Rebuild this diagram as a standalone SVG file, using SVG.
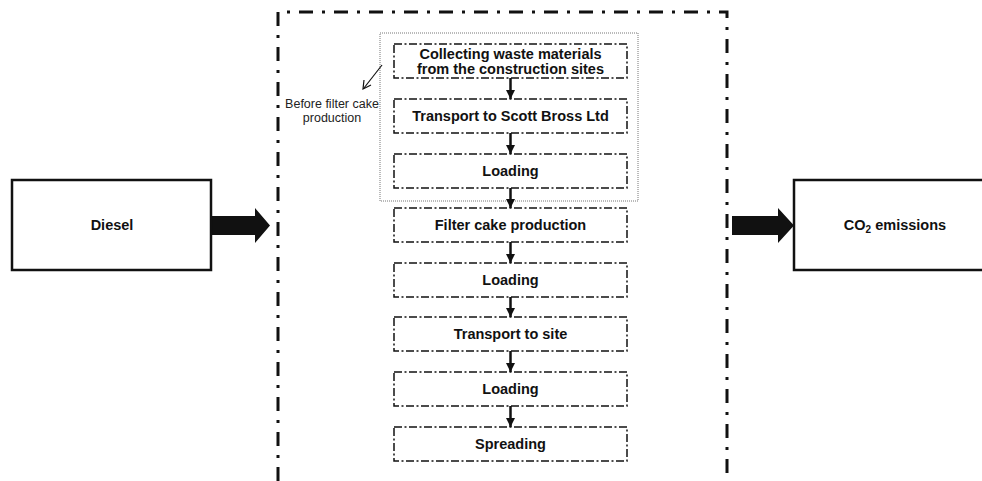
<svg xmlns="http://www.w3.org/2000/svg" width="982" height="481" viewBox="0 0 982 481">
<style>
  .step { fill: #fff; stroke: #111; stroke-width: 1.5; stroke-dasharray: 8 2.5 2 2.5; }
  .solid { fill: #fff; stroke: #111; stroke-width: 2.5; }
  .lbl { font-family: "Liberation Sans", Arial, sans-serif; font-weight: bold; font-size: 14.5px; fill: #111; text-anchor: middle; }
  .note { font-family: "Liberation Sans", Arial, sans-serif; font-size: 12.5px; fill: #222; text-anchor: middle; }
  .big { font-family: "Liberation Sans", Arial, sans-serif; font-weight: bold; font-size: 14.5px; fill: #111; text-anchor: middle; }
  .flow { stroke: #111; stroke-width: 2.5; fill: none; marker-end: url(#ah); }
</style>
<defs>
  <marker id="ah" markerUnits="userSpaceOnUse" markerWidth="10" markerHeight="9" refX="9" refY="4.5" orient="auto">
    <path d="M0,0 L9,4.5 L0,9 Z" fill="#111"/>
  </marker>
</defs>
<rect width="982" height="481" fill="#fff"/>
<g id="boundary">
  <path d="M278,481 V12 H727 V481" fill="none" stroke="#111" stroke-width="3" stroke-dasharray="14 9 3 9"/>
</g>
<g id="group-before">
  <rect x="380" y="33" width="258" height="168" fill="none" stroke="#777" stroke-width="1" stroke-dasharray="1 1"/>
</g>
<g id="annotation">
  <text class="note" x="332" y="108">Before filter cake</text>
  <text class="note" x="332" y="122">production</text>
  <line x1="382" y1="65" x2="364" y2="88" stroke="#111" stroke-width="1.2"/>
  <path d="M364,80 L363,89 L371,85" fill="none" stroke="#111" stroke-width="1.2"/>
</g>
<g id="connectors">
  <line class="flow" x1="510.5" y1="78" x2="510.5" y2="99"/>
  <line class="flow" x1="510.5" y1="133" x2="510.5" y2="154"/>
  <line class="flow" x1="510.5" y1="188" x2="510.5" y2="208"/>
  <line class="flow" x1="510.5" y1="242" x2="510.5" y2="263"/>
  <line class="flow" x1="510.5" y1="297" x2="510.5" y2="317"/>
  <line class="flow" x1="510.5" y1="351" x2="510.5" y2="372"/>
  <line class="flow" x1="510.5" y1="406" x2="510.5" y2="427"/>
  <polygon points="211,216 255,216 255,208 270,225.5 255,243 255,235 211,235" fill="#111"/>
  <polygon points="732,216 778,216 778,208 794,225.5 778,243 778,235 732,235" fill="#111"/>
</g>
<g id="n1">
  <rect class="step" x="394" y="44" width="233" height="34"/>
  <text class="lbl" x="510.5" y="59">Collecting waste materials</text>
  <text class="lbl" x="510.5" y="74">from the construction sites</text>
</g>
<g id="n2">
  <rect class="step" x="394" y="99" width="233" height="34"/>
  <text class="lbl" x="510.5" y="121">Transport to Scott Bross Ltd</text>
</g>
<g id="n3">
  <rect class="step" x="394" y="154" width="233" height="34"/>
  <text class="lbl" x="510.5" y="176">Loading</text>
</g>
<g id="n4">
  <rect class="step" x="394" y="208" width="233" height="34"/>
  <text class="lbl" x="510.5" y="230">Filter cake production</text>
</g>
<g id="n5">
  <rect class="step" x="394" y="263" width="233" height="34"/>
  <text class="lbl" x="510.5" y="285">Loading</text>
</g>
<g id="n6">
  <rect class="step" x="394" y="317" width="233" height="34"/>
  <text class="lbl" x="510.5" y="339">Transport to site</text>
</g>
<g id="n7">
  <rect class="step" x="394" y="372" width="233" height="34"/>
  <text class="lbl" x="510.5" y="394">Loading</text>
</g>
<g id="n8">
  <rect class="step" x="394" y="427" width="233" height="34"/>
  <text class="lbl" x="510.5" y="449">Spreading</text>
</g>
<g id="diesel">
  <rect class="solid" x="12" y="180" width="199" height="90"/>
  <text class="big" x="112" y="230">Diesel</text>
</g>
<g id="co2">
  <rect class="solid" x="794" y="180" width="200" height="90"/>
  <text class="big" x="895" y="230">CO<tspan font-size="10" dy="3">2</tspan><tspan dy="-3"> emissions</tspan></text>
</g>
</svg>
